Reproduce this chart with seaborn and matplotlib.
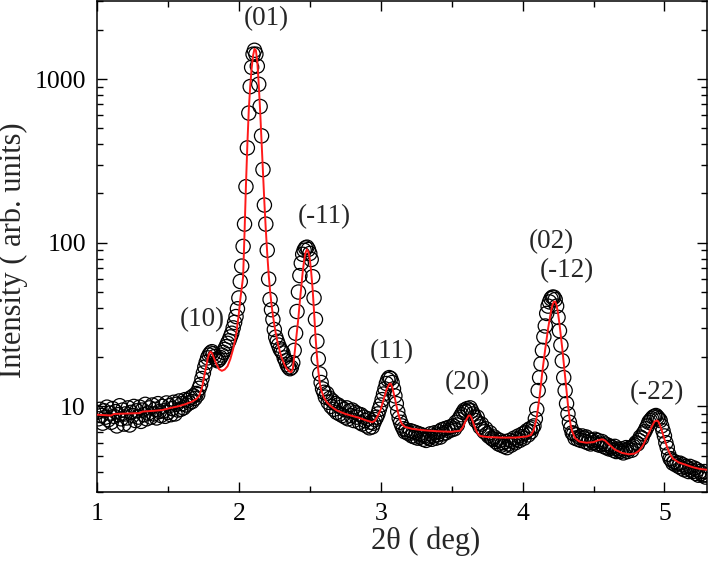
import numpy as np
import pandas as pd
import matplotlib
matplotlib.use("Agg")
import matplotlib.pyplot as plt
import matplotlib.ticker as mticker
import seaborn as sns

# ---------------- data ----------------
scan_start = 1.00
scan_step = 0.01
# measured intensity, one row per 0.1 deg of 2theta (10 points each)
intensity = [
    9.2, 8.4, 9.6, 8.8, 7.9, 9.4, 8.6, 9.9, 8.3, 9.1,          # 1.0
    8.0, 9.7, 8.7, 9.3, 7.6, 8.9, 10.1, 8.4, 9.5, 7.8,         # 1.1
    9.0, 8.5, 9.8, 7.7, 9.2, 8.8, 10.0, 8.2, 9.4, 8.6,         # 1.2
    9.9, 8.1, 9.5, 8.9, 10.3, 8.4, 9.1, 9.8, 8.6, 10.2,        # 1.3
    9.0, 9.6, 8.5, 10.4, 9.3, 8.8, 10.0, 9.4, 8.7, 10.5,       # 1.4
    9.2, 10.1, 8.9, 9.7, 10.6, 9.0, 10.3, 9.5, 10.8, 9.6,      # 1.5
    10.4, 9.8, 11.0, 10.2, 10.9, 10.5, 11.3, 10.7, 11.6, 11.2, # 1.6
    12.0, 11.8, 12.9, 13.6, 14.8, 16.0, 17.4, 18.6, 19.8, 20.6,  # 1.7
    21.2, 21.6, 21.0, 20.2, 19.4, 19.0, 19.3, 19.9, 20.6, 21.4,  # 1.8
    22.3, 23.2, 24.3, 25.2, 26.6, 28.0, 30.2, 32.6, 35.4, 39.5,  # 1.9
    46, 58, 72, 95, 130, 220, 380, 620, 900, 1180,              # 2.0
    1420, 1500, 1420, 1200, 930, 680, 450, 280, 170, 130,       # 2.1
    90, 60, 45, 39, 34, 29.5, 26.5, 25, 23.7, 22.5,             # 2.2
    21.8, 21.2, 19.8, 19.0, 18.0, 17.4, 17.0, 17.3, 18.5, 22,   # 2.3
    28, 38, 50, 63, 75, 85, 90, 93, 94, 91,                     # 2.4
    86, 79, 62, 46, 34, 25, 19.5, 15.8, 14.0, 12.8,             # 2.5
    12.2, 11.4, 12.0, 10.6, 11.2, 10.0, 10.8, 9.6, 10.4, 9.2,   # 2.6
    10.2, 9.0, 9.9, 8.8, 9.6, 8.6, 9.8, 8.4, 9.4, 8.8,          # 2.7
    9.5, 8.2, 9.2, 8.6, 9.0, 8.0, 8.9, 7.8, 8.6, 8.2,           # 2.8
    7.6, 8.4, 7.4, 8.0, 7.5, 7.9, 8.3, 8.6, 9.0, 9.6,           # 2.9
    10.2, 11.0, 11.9, 12.8, 13.8, 14.6, 15.0, 14.8, 14.0, 12.8, # 3.0
    11.6, 10.4, 9.3, 8.5, 8.0, 7.6, 7.3, 7.0, 7.2, 6.9,         # 3.1
    6.8, 7.1, 6.6, 7.0, 6.5, 6.9, 6.4, 6.8, 6.5, 6.7,           # 3.2
    6.3, 6.6, 6.2, 6.5, 6.4, 6.8, 6.3, 6.6, 6.9, 6.4,           # 3.3
    6.7, 7.0, 6.5, 7.2, 6.8, 7.3, 6.9, 7.4, 7.1, 7.5,           # 3.4
    7.2, 7.6, 7.3, 8.0, 7.7, 8.3, 8.6, 8.9, 9.2, 9.5,           # 3.5
    9.3, 9.7, 9.5, 9.8, 9.4, 9.0, 8.6, 8.2, 8.6, 7.9,           # 3.6
    7.5, 7.8, 7.2, 7.0, 7.3, 6.8, 6.6, 6.9, 6.4, 6.3,           # 3.7
    6.5, 6.1, 6.3, 5.9, 6.2, 5.8, 6.0, 5.7, 6.1, 5.6,           # 3.8
    5.9, 6.2, 5.8, 6.1, 6.4, 6.0, 6.3, 6.6, 6.2, 6.5,           # 3.9
    6.8, 6.4, 6.9, 7.1, 6.7, 7.3, 7.0, 7.4, 7.6, 8.4,           # 4.0
    9.6, 12.5, 15.0, 18.2, 22.0, 26.6, 31, 37, 41, 43.5,        # 4.1
    45.5, 46.5, 46.5, 45, 41, 35, 29, 23.7, 19, 15,             # 4.2
    12.5, 10.4, 9.0, 8.0, 7.4, 6.9, 6.8, 6.4, 6.7, 6.3,         # 4.3
    6.5, 6.2, 6.6, 6.4, 6.1, 6.5, 6.0, 6.3, 5.9, 6.2,           # 4.4
    6.0, 6.3, 5.9, 6.2, 5.8, 5.9, 6.1, 5.7, 5.9, 5.6,           # 4.5
    5.8, 5.5, 5.7, 5.6, 5.4, 5.7, 5.3, 5.5, 5.4, 5.3,           # 4.6
    5.5, 5.2, 5.4, 5.6, 5.3, 5.5, 5.6, 5.4, 5.7, 5.8,           # 4.7
    6.0, 5.9, 6.2, 6.5, 6.4, 6.8, 7.0, 7.3, 7.6, 8.0,           # 4.8
    8.2, 8.4, 8.6, 8.7, 8.8, 8.6, 8.4, 8.2, 7.6, 7.1,           # 4.9
    6.6, 6.0, 5.6, 5.1, 4.8, 4.7, 4.5, 4.6, 4.4, 4.5,           # 5.0
    4.3, 4.5, 4.2, 4.4, 4.1, 4.3, 4.2, 4.0, 4.3, 4.1,           # 5.1
    4.0, 4.2, 3.9, 4.1, 3.8, 4.0, 3.9, 3.8, 4.0, 3.7,           # 5.2
    3.8,                                                        # 5.3
]

# fitted curve (red line)
fit_two_theta = [
    1.00, 1.10, 1.12, 1.30, 1.32, 1.40, 1.46, 1.52, 1.57, 1.62, 1.67, 1.70,
    1.72, 1.74, 1.76, 1.78, 1.79, 1.80, 1.81, 1.82, 1.84, 1.86, 1.88, 1.90,
    1.92, 1.94, 1.96, 1.98, 2.00, 2.01, 2.02, 2.03, 2.04, 2.05, 2.06, 2.07,
    2.08, 2.09, 2.10, 2.11, 2.12, 2.13, 2.14, 2.15, 2.16, 2.17, 2.18, 2.19,
    2.20, 2.21, 2.22, 2.23, 2.24, 2.25, 2.26, 2.27, 2.28, 2.29, 2.30, 2.31,
    2.32, 2.33, 2.34, 2.35, 2.36, 2.37, 2.38, 2.39, 2.40, 2.41, 2.42, 2.43,
    2.44, 2.45, 2.46, 2.47, 2.48, 2.49, 2.50, 2.51, 2.52, 2.53, 2.54, 2.55,
    2.56, 2.57, 2.58, 2.60, 2.62, 2.65, 2.69, 2.75, 2.80, 2.85, 2.90, 2.94,
    2.96, 2.98, 3.00, 3.02, 3.04, 3.06, 3.07, 3.08, 3.09, 3.10, 3.11, 3.12,
    3.13, 3.14, 3.15, 3.17, 3.22, 3.30, 3.40, 3.50, 3.56, 3.58, 3.60, 3.62,
    3.63, 3.64, 3.66, 3.68, 3.70, 3.75, 3.85, 3.95, 4.03, 4.06, 4.08, 4.10,
    4.12, 4.14, 4.16, 4.18, 4.20, 4.21, 4.22, 4.23, 4.24, 4.25, 4.26, 4.27,
    4.28, 4.29, 4.30, 4.31, 4.32, 4.33, 4.34, 4.35, 4.37, 4.40, 4.45, 4.50,
    4.53, 4.56, 4.58, 4.61, 4.65, 4.70, 4.75, 4.79, 4.82, 4.85, 4.88, 4.91,
    4.93, 4.95, 4.96, 4.98, 5.00, 5.02, 5.04, 5.06, 5.10, 5.15, 5.20, 5.25,
    5.30,
]
fit_intensity = [
    8.9, 8.8, 9.0, 9.1, 9.3, 9.4, 9.5, 9.8, 10.0, 10.3, 10.7, 11.1,
    11.6, 13.0, 15.9, 19.5, 21.0, 21.6, 21.2, 20.2, 18.2, 16.9, 16.5, 16.8,
    17.6, 19.5, 22.5, 27, 37, 45, 53, 62, 115, 225, 400, 650,
    905, 1160, 1390, 1530, 1500, 1280, 930, 640, 420, 270, 175, 120,
    86, 64, 51, 42, 36, 31.5, 28, 25.3, 23.2, 21.5, 20.1, 19.0,
    18.1, 17.4, 16.9, 16.5, 16.3, 16.2, 17, 20, 24, 29, 35, 44,
    54, 66, 78, 87, 91, 88, 80, 66, 52, 38, 27, 20.5,
    16.5, 14.0, 12.6, 11.3, 10.6, 10.0, 9.45, 9.0, 8.75, 8.5, 8.2, 8.0,
    8.2, 8.8, 9.6, 11.0, 12.6, 13.7, 13.8, 13.2, 12.2, 11.2, 10.2, 9.3,
    8.6, 8.1, 7.8, 7.5, 7.3, 7.15, 7.05, 7.0, 7.1, 7.5, 8.2, 8.8,
    8.8, 8.5, 7.6, 6.9, 6.6, 6.5, 6.45, 6.45, 6.55, 6.7, 7.2, 8.6,
    11.5, 16.5, 22.5, 30, 38, 41.5, 43.5, 43.8, 41.5, 37, 32, 27,
    22.5, 18.5, 15.2, 12.4, 10.2, 8.6, 7.6, 7.0, 6.4, 6.1, 6.0, 6.05,
    6.2, 6.3, 6.2, 5.85, 5.45, 5.2, 5.1, 5.15, 5.35, 5.8, 6.6, 7.5,
    8.1, 8.2, 8.0, 7.2, 6.3, 5.6, 5.1, 4.8, 4.55, 4.4, 4.25, 4.15,
    4.1,
]

# peak labels and where they sit (2theta, intensity)
peak_labels = ["(01)", "(-11)", "(10)", "(11)", "(20)", "(02)", "(-12)", "(-22)"]
label_two_theta = [2.19, 2.60, 1.74, 3.08, 3.61, 4.20, 4.31, 4.945]
label_intensity = [2330, 145, 34, 21.7, 14.0, 102, 68, 12.2]

x_ticks = [1, 2, 3, 4, 5]

# ---------------- plotting ----------------
sns.set_style("ticks")
plt.rcParams["font.family"] = ["Liberation Serif", "DejaVu Serif"]

scan = pd.DataFrame({
    "two_theta": np.round(scan_start + scan_step * np.arange(len(intensity)), 2),
    "intensity": intensity,
})
fit = pd.DataFrame({"two_theta": fit_two_theta, "intensity": fit_intensity})

fig = plt.figure(figsize=(7.09, 5.70), dpi=100)
ax = fig.add_axes([97 / 709, 1 - 492 / 570, 610 / 709, 491 / 570])
ax.set_yscale("log")

sns.scatterplot(data=scan, x="two_theta", y="intensity", ax=ax,
                marker="o", s=105, facecolor="none", edgecolor="black",
                linewidth=0.9, zorder=2, legend=False)
sns.lineplot(data=fit, x="two_theta", y="intensity", ax=ax,
             color="#ff1a1a", linewidth=1.4, estimator=None, sort=False,
             zorder=3, legend=False)

for lab, lx, ly in zip(peak_labels, label_two_theta, label_intensity):
    ax.text(lx, ly, lab, ha="center", va="center", fontsize=19.5)

ax.set_xlim(1, 5.3)
ax.set_ylim(3, 3000)
ax.set_xticks(x_ticks)
ax.xaxis.set_minor_locator(mticker.MultipleLocator(0.5))
ax.yaxis.set_major_locator(mticker.LogLocator(base=10, numticks=10))
ax.yaxis.set_minor_locator(mticker.LogLocator(base=10, subs=np.arange(2, 10), numticks=20))
ax.yaxis.set_major_formatter(mticker.FuncFormatter(lambda v, _: f"{v:g}"))
ax.yaxis.set_minor_formatter(mticker.NullFormatter())

ax.tick_params(which="both", direction="in", top=True, right=True,
               width=1.0, labelsize=18.5, colors="black")
ax.tick_params(which="major", length=7, pad=8)
ax.tick_params(which="minor", length=4.2)
for sp in ax.spines.values():
    sp.set_linewidth(1.1)
    sp.set_color("black")

ax.set_xlabel("2θ ( deg)", fontsize=22)
ax.set_ylabel("Intensity ( arb. units)", fontsize=22)
ax.xaxis.set_label_coords(0.538, -0.070)
ax.yaxis.set_label_coords(-0.113, 0.493)

fig.savefig("out.png", dpi=100)
